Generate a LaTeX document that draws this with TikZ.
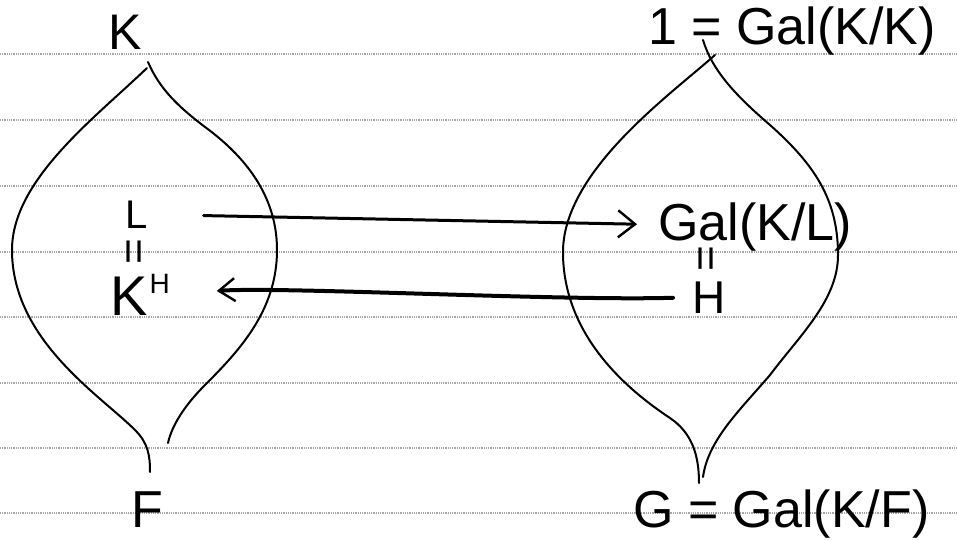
\documentclass[tikz,border=0pt]{standalone}
\usepackage{fontspec}
\setmainfont{Liberation Sans}
\usetikzlibrary{arrows.meta}
\begin{document}
\begin{tikzpicture}[x=1pt,y=-1pt,
  rule/.style={draw=black!35, line width=1.4pt, dash pattern=on 1pt off 0.8pt},
  pen/.style={line width=2pt, line join=round, line cap=round},
  lbl/.style={inner sep=0pt, anchor=base west},
  arr/.style={line width=3pt, line cap=round, -{Straight Barb[length=17pt,width=27pt,line width=2.4pt]}},
  arrb/.style={line width=4pt, line cap=round, -{Straight Barb[length=16pt,width=23pt,line width=2.4pt]}},
  eqv/.style={inner sep=0pt, rotate=90, font=\fontsize{44}{50}\selectfont}
]
\fill[white] (0,0) rectangle (957,540);
\useasboundingbox (0,0) rectangle (957,540);
\foreach \y in {54,120,186,252,317,383,448,513}
  \draw[rule] (0,\y) -- (957,\y);

% left lens
\draw[pen] (147,68) .. controls (95,118) and (12,180) .. (12,250)
  .. controls (12,340) and (100,395) .. (135,430)
  .. controls (148,443) and (150,455) .. (150,472);
\draw[pen] (148,62) .. controls (160,90) and (180,108) .. (205,127)
  .. controls (250,160) and (277,200) .. (277,250)
  .. controls (277,310) and (240,350) .. (205,385)
  .. controls (185,405) and (172,425) .. (168,443);
% right lens
\draw[pen] (715,55) .. controls (670,95) and (565,170) .. (563,250)
  .. controls (562,330) and (620,385) .. (670,418)
  .. controls (692,433) and (699,455) .. (699,483);
\draw[pen] (703,40) .. controls (712,70) and (735,95) .. (770,125)
  .. controls (815,165) and (838,200) .. (838,255)
  .. controls (838,300) and (800,335) .. (770,375)
  .. controls (740,410) and (708,440) .. (703,477);

% labels
\node[lbl, font=\fontsize{50}{58}\selectfont] (K) at (108,50) {K};
\node[lbl, font=\fontsize{52}{60}\selectfont] (top) at (648,45) {1 = Gal(K/K)};
\node[lbl, font=\fontsize{40}{48}\selectfont] (L) at (125,228) {L};
\node[eqv] (eqL) at (138,252) {=};
\node[lbl, font=\fontsize{56}{64}\selectfont] (KH) at (110,315) {K\kern2pt\raisebox{22pt}{\fontsize{28}{32}\selectfont H}};
\node[lbl, font=\fontsize{52}{60}\selectfont] (galL) at (658,240) {Gal(K/L)};
\node[eqv] (eqG) at (710,259) {=};
\node[lbl, font=\fontsize{46}{54}\selectfont] (H) at (692,313) {H};
\node[lbl, font=\fontsize{52}{60}\selectfont] (F) at (131,527) {F};
\node[lbl, font=\fontsize{52}{60}\selectfont] (G) at (633,527) {G = Gal(K/F)};

% arrows
\draw[arr, shorten <=56pt, shorten >=21pt] (L) -- (galL);
\draw[arrb, shorten <=19pt, shorten >=47pt] (H.west) .. controls +(-130,4) and +(110,-8) .. (KH.east);
\end{tikzpicture}
\end{document}
